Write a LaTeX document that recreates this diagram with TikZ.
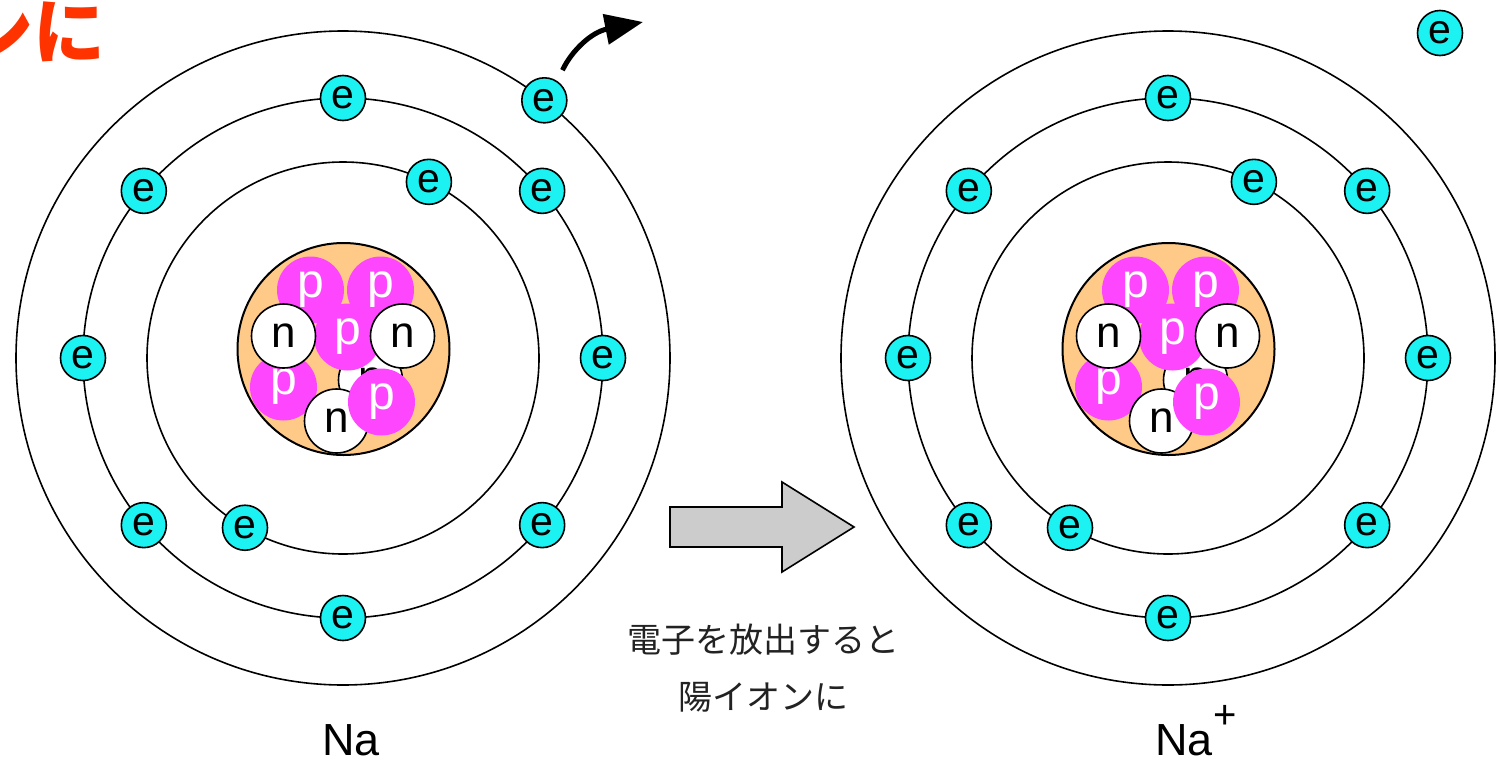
\documentclass[tikz,border=0pt]{standalone}
\usepackage{fontspec}
\setmainfont{Liberation Sans}
\newfontfamily\jpfont{Noto Sans CJK JP}
\usetikzlibrary{arrows.meta}

\definecolor{ecyan}{HTML}{1CF2F2}
\definecolor{ppink}{HTML}{FF46FF}
\definecolor{nuctan}{HTML}{FFCA88}
\definecolor{arrgray}{HTML}{CCCCCC}
\definecolor{alertred}{HTML}{FF3300}
\definecolor{capgray}{HTML}{222222}

\tikzset{
  electron/.style={circle, draw=black, line width=1.6pt, fill=ecyan,
    minimum size=45pt, inner sep=0pt, font=\fontsize{41}{41}\selectfont},
  proton/.style={circle, fill=ppink, minimum size=67pt, inner sep=0pt,
    text=white, font=\fontsize{48}{48}\selectfont},
  neutron/.style={circle, draw=black, line width=1.6pt, fill=white,
    minimum size=64pt, inner sep=0pt, font=\fontsize{44}{44}\selectfont},
  orbit/.style={draw=black, line width=1.6pt},
  caption/.style={font=\jpfont\fontsize{34}{34}\selectfont, text=capgray, inner sep=0pt},
  element/.style={font=\fontsize{45}{45}\selectfont, inner sep=0pt},
  bigarrow/.style={draw=black, line width=1.6pt, fill=arrgray, line join=miter},
  flyarrow/.style={line width=5pt, -{Triangle[length=38pt,width=30pt]}},
  % nucleus of sodium, drawn as the visible cluster of particles
  nucleus/.pic={
    \fill[nuctan] (0,0) circle[radius=106];
    \begin{scope}
      \clip (0,0) circle[radius=106];
      \node[proton]  (pTL) at (-33,-59) {p};
      \node[proton]  (pTR) at (37,-59)  {p};
      \node[proton]  (pLB) at (-60,38)  {p};
      \node[neutron] (nH)  at (27,31)   {n};
      \node[proton]  (pC)  at (4,-12)   {p};
      \node[neutron] (nL)  at (-60,-13) {n};
      \node[neutron] (nR)  at (59,-13)  {n};
      \node[neutron] (nB)  at (-7,72)   {n};
      \node[proton]  (pBR) at (38,53)   {p};
    \end{scope}
    \draw[line width=2pt] (0,0) circle[radius=106];
  },
  shells/.pic={
    \draw[orbit] (0,0) circle[radius=196];
    \draw[orbit] (0,0) circle[radius=260];
    \draw[orbit] (0,0) circle[radius=327];
  },
}

\begin{document}
\begin{tikzpicture}[x=1pt, y=-1pt]
  \fill[white] (0,0) rectangle (1499,763);
  \useasboundingbox (0,0) rectangle (1499,763);

  % heading fragment at the top left
  \node[anchor=east, text=alertred, inner sep=0pt,
        font=\jpfont\bfseries\fontsize{72}{72}\selectfont] (lead) at (106,32) {陽イオンに};

  % ---------- neutral Na atom ----------
  \coordinate (cL) at (343,358);
  \pic (L) at (cL) {shells};
  \pic (Lk) at (343.5,349) {nucleus};

  % (y axis points down, so angles are negated to count anticlockwise)
  \path (cL) ++(-64:196)  node[electron] (Li1) {e};
  \path (cL) ++(-240:196) node[electron] (Li2) {e};
  \foreach \a [count=\i] in {0,40,90,140,180,220,270,320}
    \path (cL) ++(-\a:260) node[electron] (Lm\i) {e};
  \path (cL) ++(-52:327) node[electron] (Lo1) {e};

  % the outer electron leaves
  \coordinate (flyEnd) at (643,22);
  \draw[flyarrow, shorten <=12pt] (Lo1.56) .. controls (572,50) and (592,32) .. (flyEnd);

  \node[element, anchor=base] (naL) at (351,755) {Na};

  % ---------- reaction arrow ----------
  \draw[bigarrow] (670,507) -- (782,507) -- (782,482) -- (854,527) -- (782,572)
    -- (782,547) -- (670,547) -- cycle;
  \node[caption] (cap1) at (763,640) {電子を放出すると};
  \node[caption] (cap2) at (763,697) {陽イオンに};

  % ---------- Na+ ion ----------
  \coordinate (cR) at (1168,358);
  \pic (R) at (cR) {shells};
  \pic (Rk) at (1168.5,349) {nucleus};

  \path (cR) ++(-64:196)  node[electron] (Ri1) {e};
  \path (cR) ++(-240:196) node[electron] (Ri2) {e};
  \foreach \a [count=\i] in {0,40,90,140,180,220,270,320}
    \path (cR) ++(-\a:260) node[electron] (Rm\i) {e};

  % the released electron
  \node[electron] (free) at (1440,33) {e};

  \node[element, anchor=base west] (naR) at (1155,755)
    {Na\hspace{1pt}\raisebox{27pt}{\fontsize{40}{40}\selectfont +}};
\end{tikzpicture}
\end{document}
